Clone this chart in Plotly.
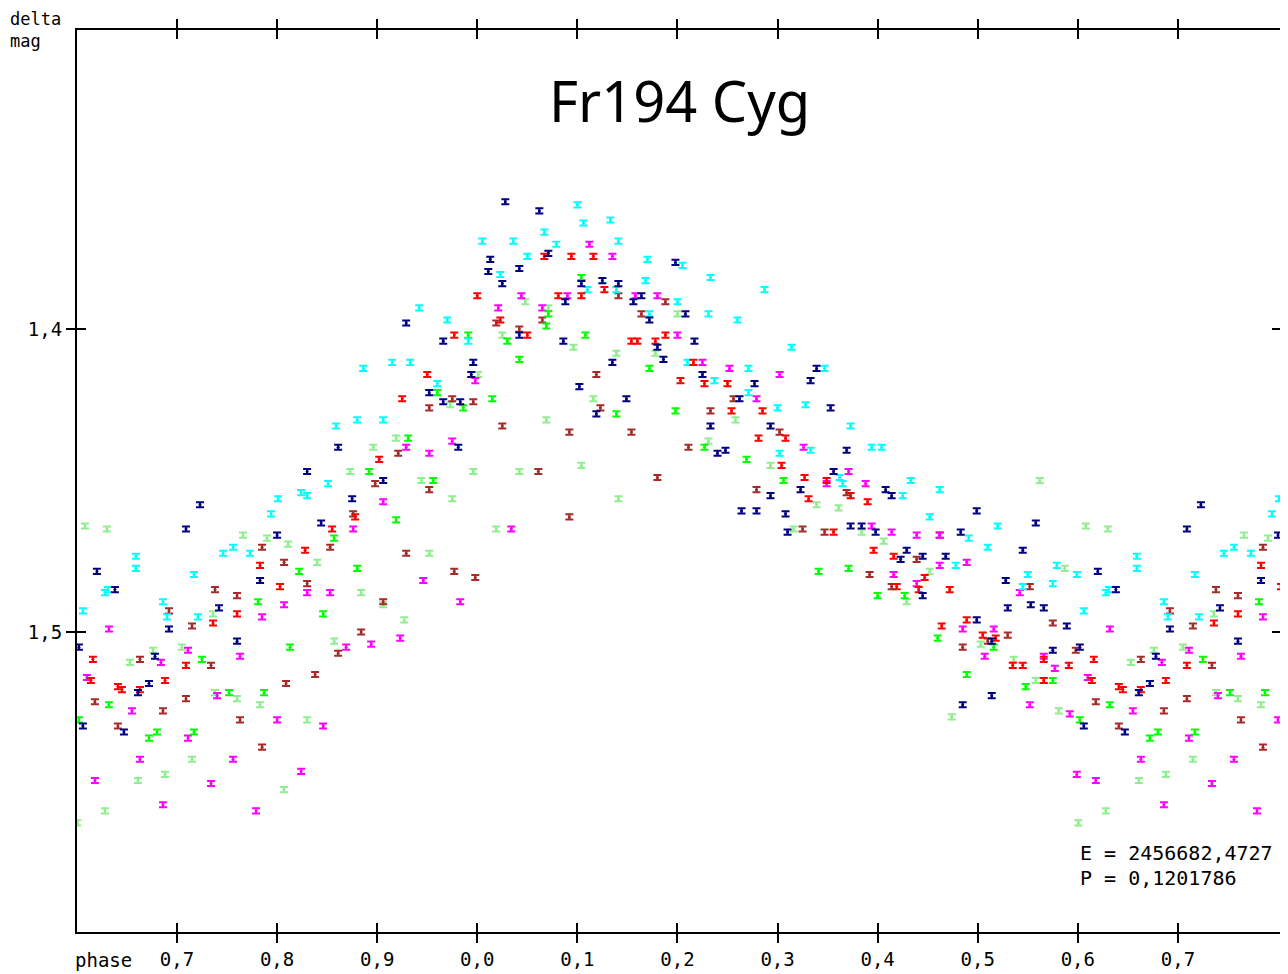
import plotly.graph_objects as go

# ---- data: phase (0..1) and delta mag per observing run (colour) ----
navy_phase = [0.723, 0.709, 0.800, 0.620, 0.783, 0.638, 0.742, 0.692, 0.602, 0.760, 0.678, 0.672, 0.661, 0.606, 0.647,
              0.929, 0.966, 0.996, 0.994, 0.952, 0.966, 0.983, 0.861, 0.981, 0.830, 0.906, 0.875, 0.844,
              0.028, 0.062, 0.071, 0.013, 0.198, 0.011, 0.042, 0.125, 0.141, 0.025, 0.104, 0.088, 0.164, 0.156, 0.172,
              0.042, 0.086, 0.180, 0.186, 0.135, 0.102, 0.149, 0.119,
              0.208, 0.217, 0.339, 0.225, 0.277, 0.333, 0.262, 0.353, 0.233, 0.293, 0.248, 0.369,
              0.240, 0.356, 0.293, 0.323, 0.264, 0.279, 0.308, 0.310, 0.373, 0.384, 0.398,
              0.408, 0.414, 0.499, 0.558, 0.483, 0.545, 0.429, 0.423, 0.445, 0.468, 0.528, 0.445, 0.530, 0.553,
              0.566, 0.589, 0.499, 0.514, 0.575, 0.514, 0.485]
navy_mag = [1.458, 1.466, 1.468, 1.480, 1.483, 1.486, 1.492, 1.499, 1.505, 1.503, 1.508, 1.517, 1.520, 1.531, 1.533,
            1.398, 1.404, 1.411, 1.415, 1.421, 1.424, 1.424, 1.439, 1.439, 1.447, 1.450, 1.456, 1.464,
            1.358, 1.361, 1.375, 1.377, 1.378, 1.381, 1.380, 1.384, 1.385, 1.385, 1.385, 1.391, 1.389, 1.391, 1.397,
            1.402, 1.404, 1.406, 1.410, 1.411, 1.419, 1.423, 1.428,
            1.395, 1.404, 1.413, 1.415, 1.418, 1.417, 1.423, 1.426, 1.432, 1.432, 1.440, 1.440,
            1.441, 1.447, 1.455, 1.453, 1.460, 1.460, 1.461, 1.467, 1.465, 1.465, 1.467,
            1.453, 1.455, 1.460, 1.464, 1.467, 1.473, 1.473, 1.476, 1.475, 1.475, 1.483, 1.488, 1.492, 1.491,
            1.492, 1.498, 1.496, 1.503, 1.506, 1.521, 1.524]

red_phase = [0.783, 0.803, 0.760, 0.736, 0.616, 0.709, 0.614, 0.688, 0.641, 0.645, 0.663,
             0.000, 0.977, 0.950, 0.925, 0.902, 0.878, 0.855, 0.828,
             0.067, 0.094, 0.116, 0.127, 0.081, 0.104, 0.023, 0.050, 0.154, 0.160, 0.178, 0.188,
             0.203, 0.216, 0.227, 0.250, 0.254, 0.285, 0.281, 0.308,
             0.304, 0.327, 0.349, 0.331, 0.373, 0.390, 0.356, 0.396,
             0.416, 0.447, 0.419, 0.441, 0.472, 0.464, 0.489, 0.505, 0.518, 0.566, 0.535, 0.545, 0.591, 0.566]
red_mag = [1.478, 1.485, 1.494, 1.497, 1.509, 1.511, 1.516, 1.516, 1.518, 1.519, 1.519,
           1.389, 1.402, 1.415, 1.423, 1.443, 1.462, 1.466, 1.473,
           1.376, 1.376, 1.376, 1.387, 1.389, 1.389, 1.397, 1.402, 1.404, 1.404, 1.404, 1.402,
           1.417, 1.411, 1.418, 1.418, 1.427, 1.427, 1.436, 1.436,
           1.445, 1.449, 1.450, 1.456, 1.455, 1.457, 1.467, 1.473,
           1.475, 1.482, 1.485, 1.486, 1.486, 1.498, 1.496, 1.501, 1.502, 1.509, 1.511, 1.511, 1.511, 1.516]

cyan_phase = [0.801, 0.794, 0.756, 0.746, 0.773, 0.659, 0.659, 0.717, 0.631, 0.628, 0.686, 0.606, 0.690, 0.721,
              0.942, 0.970, 0.991, 0.886, 0.915, 0.933, 0.960, 0.859, 0.880, 0.906, 0.851, 0.824, 0.830,
              0.100, 0.106, 0.133, 0.067, 0.005, 0.036, 0.079, 0.141, 0.050, 0.170, 0.023, 0.168, 0.110, 0.139,
              0.200, 0.172,
              0.205, 0.233, 0.287, 0.231, 0.260, 0.314, 0.210, 0.271, 0.347, 0.237, 0.271, 0.300, 0.328, 0.373,
              0.394, 0.333, 0.302, 0.362, 0.365,
              0.404, 0.433, 0.425, 0.462, 0.452, 0.520, 0.491, 0.510, 0.478, 0.579, 0.599, 0.550, 0.575, 0.545]
cyan_mag = [1.456, 1.461, 1.472, 1.474, 1.474, 1.475, 1.479, 1.481, 1.486, 1.487, 1.490, 1.493, 1.495, 1.495,
            1.393, 1.397, 1.404, 1.413, 1.411, 1.411, 1.418, 1.432, 1.430, 1.430, 1.451, 1.454, 1.455,
            1.359, 1.365, 1.364, 1.368, 1.371, 1.371, 1.372, 1.371, 1.376, 1.377, 1.382, 1.384, 1.387, 1.387,
            1.391, 1.395,
            1.379, 1.383, 1.387, 1.395, 1.397, 1.406, 1.411, 1.413, 1.413, 1.417, 1.421, 1.426, 1.425, 1.432,
            1.439, 1.440, 1.441, 1.449, 1.451,
            1.439, 1.450, 1.455, 1.453, 1.462, 1.465, 1.469, 1.472, 1.478, 1.478, 1.481, 1.481, 1.484, 1.485]

magenta_phase = [0.785, 0.632, 0.711, 0.763, 0.684, 0.610, 0.740, 0.655, 0.800, 0.711, 0.663, 0.756, 0.618, 0.734,
                 0.686, 0.779,
                 0.998, 0.929, 0.952, 0.975, 0.906, 0.876, 0.946, 0.830, 0.853, 0.983, 0.807, 0.923, 0.869, 0.894,
                 0.846, 0.824,
                 0.112, 0.135, 0.044, 0.090, 0.158, 0.180, 0.021, 0.065, 0.200, 0.034,
                 0.225, 0.252, 0.302, 0.279, 0.326, 0.371, 0.349, 0.388, 0.394,
                 0.414, 0.439, 0.462, 0.462, 0.489, 0.416, 0.439, 0.542, 0.485, 0.516, 0.507, 0.566, 0.577, 0.552,
                 0.592, 0.599]
magenta_mag = [1.495, 1.499, 1.506, 1.508, 1.510, 1.515, 1.521, 1.526, 1.529, 1.535, 1.542, 1.542, 1.549, 1.550,
               1.557, 1.559,
               1.417, 1.439, 1.441, 1.437, 1.457, 1.466, 1.483, 1.487, 1.487, 1.490, 1.491, 1.502, 1.505, 1.504,
               1.531, 1.546,
               1.372, 1.376, 1.389, 1.389, 1.389, 1.389, 1.393, 1.393, 1.402, 1.466,
               1.411, 1.413, 1.415, 1.423, 1.439, 1.447, 1.451, 1.451, 1.465,
               1.467, 1.468, 1.468, 1.478, 1.477, 1.481, 1.484, 1.487, 1.499, 1.499, 1.508, 1.508, 1.512, 1.524,
               1.527, 1.547]

green_phase = [0.781, 0.725, 0.752, 0.787, 0.632, 0.602, 0.672, 0.680, 0.717,
               0.991, 0.960, 0.986, 0.931, 0.892, 0.956, 0.919, 0.857, 0.822, 0.880, 0.846, 0.813,
               0.104, 0.071, 0.069, 0.030, 0.108, 0.042, 0.172, 0.015, 0.139, 0.198,
               0.227, 0.269, 0.306, 0.341, 0.371, 0.400,
               0.427, 0.460, 0.516, 0.489, 0.575, 0.548]
green_mag = [1.490, 1.509, 1.520, 1.520, 1.524, 1.529, 1.535, 1.533, 1.533,
             1.402, 1.421, 1.426, 1.436, 1.447, 1.450, 1.463, 1.469, 1.480, 1.479, 1.494, 1.505,
             1.383, 1.395, 1.399, 1.404, 1.402, 1.410, 1.413, 1.423, 1.428, 1.427,
             1.439, 1.443, 1.450, 1.480, 1.479, 1.488,
             1.488, 1.502, 1.505, 1.514, 1.516, 1.518]

lightgreen_phase = [0.608, 0.630, 0.766, 0.790, 0.736, 0.676, 0.705, 0.653, 0.738, 0.760, 0.783, 0.715, 0.661,
                    0.688, 0.628, 0.6005,
                    0.001, 0.973, 0.896, 0.919, 0.873, 0.944, 0.996, 0.975, 0.811, 0.952,
                    0.840, 0.884, 0.906, 0.927, 0.857, 0.830, 0.807,
                    0.048, 0.071, 0.200, 0.025, 0.096, 0.178, 0.139, 0.116, 0.069, 0.042, 0.104, 0.141, 0.019,
                    0.258, 0.231, 0.293, 0.339, 0.361, 0.316, 0.384,
                    0.562, 0.406, 0.452, 0.587, 0.429, 0.503, 0.536, 0.558, 0.581, 0.474]
lightgreen_mag = [1.465, 1.466, 1.468, 1.469, 1.494, 1.506, 1.505, 1.510, 1.520, 1.522, 1.524, 1.542, 1.549,
                  1.547, 1.559, 1.563,
                  1.415, 1.425, 1.439, 1.436, 1.447, 1.450, 1.447, 1.456, 1.471, 1.474,
                  1.477, 1.487, 1.491, 1.496, 1.503, 1.529, 1.552,
                  1.391, 1.393, 1.395, 1.402, 1.406, 1.408, 1.408, 1.423, 1.430, 1.447, 1.445, 1.456, 1.466,
                  1.430, 1.437, 1.445, 1.458, 1.459, 1.466, 1.467,
                  1.450, 1.470, 1.480, 1.479, 1.490, 1.504, 1.509, 1.516, 1.526, 1.528]

brown_phase = [0.785, 0.738, 0.760, 0.692, 0.715, 0.663, 0.734, 0.618, 0.709, 0.686, 0.641, 0.763, 0.785,
               0.975, 0.996, 0.952, 0.921, 0.898, 0.952, 0.876, 0.853, 0.929,
               0.807, 0.977, 0.998, 0.830, 0.906, 0.884, 0.861, 0.838, 0.809,
               0.141, 0.188, 0.065, 0.019, 0.164, 0.042, 0.119,
               0.123, 0.025, 0.092, 0.154, 0.061, 0.180, 0.092,
               0.256, 0.233, 0.302, 0.211,
               0.279, 0.369, 0.325, 0.347, 0.392,
               0.462, 0.439, 0.414, 0.552, 0.575, 0.530, 0.510, 0.485, 0.598]
brown_mag = [1.472, 1.486, 1.488, 1.493, 1.498, 1.509, 1.511, 1.523, 1.522, 1.526, 1.531, 1.529, 1.538,
             1.423, 1.424, 1.426, 1.441, 1.451, 1.453, 1.461, 1.472, 1.474,
             1.477, 1.480, 1.482, 1.484, 1.490, 1.500, 1.507, 1.514, 1.517,
             1.389, 1.391, 1.397, 1.398, 1.395, 1.400, 1.415,
             1.426, 1.432, 1.434, 1.434, 1.447, 1.449, 1.462,
             1.423, 1.427, 1.434, 1.439,
             1.453, 1.454, 1.466, 1.467, 1.481,
             1.468, 1.476, 1.485, 1.485, 1.497, 1.501, 1.503, 1.505, 1.506]

tick_vals = [-0.3, -0.2, -0.1, 0.0, 0.1, 0.2, 0.3, 0.4, 0.5, 0.6, 0.7]
tick_text = ["0,7", "0,8", "0,9", "0,0", "0,1", "0,2", "0,3", "0,4", "0,5", "0,6", "0,7"]
ytick_vals = [1.4, 1.5]
ytick_text = ["1,4", "1,5"]

X_MIN, X_MAX = -0.3999, 0.803
Y_BOTTOM, Y_TOP = 1.599, 1.3013

series = [
    ("#90ee90", lightgreen_phase, lightgreen_mag),
    ("#a52a2a", brown_phase, brown_mag),
    ("#ff00ff", magenta_phase, magenta_mag),
    ("#00ff00", green_phase, green_mag),
    ("#00ffff", cyan_phase, cyan_mag),
    ("#ff0000", red_phase, red_mag),
    ("#000080", navy_phase, navy_mag),
]


def unfold(ph, mg):
    xs, ys = [], []
    for p, m in zip(ph, mg):
        if p <= X_MAX:
            xs.append(p)
            ys.append(m)
        if p - 1 >= X_MIN:
            xs.append(p - 1)
            ys.append(m)
    return xs, ys


fig = go.Figure()
for i, (col, ph, mg) in enumerate(series):
    xs, ys = unfold(ph, mg)
    fig.add_trace(go.Scatter(
        x=xs, y=ys, mode="markers",
        marker=dict(size=3, color=col, line=dict(width=0)),
        error_y=dict(type="constant", value=0.00085, width=4, thickness=2, color=col),
        xaxis="x2" if i == len(series) - 1 else "x",
        yaxis="y2" if i == len(series) - 1 else "y",
        showlegend=False, hoverinfo="skip",
    ))

mono = "DejaVu Sans Mono"
axis_font = dict(family=mono, size=19, color="black")
txt_font = dict(family=mono, size=19, color="black")

# page body has an 8px default margin, so the figure is sized/offset to compensate
fig.update_layout(
    width=1280, height=966,
    margin=dict(l=69, r=7, t=22, b=42, autoexpand=False),
    paper_bgcolor="white", plot_bgcolor="white",
    showlegend=False,
    xaxis=dict(range=[X_MIN, X_MAX], tickvals=tick_vals, ticktext=tick_text, automargin=False,
               ticks="outside", ticklen=9, tickwidth=2, tickcolor="black",
               showline=True, linecolor="black", linewidth=2, mirror="ticks",
               showgrid=False, zeroline=False, tickfont=axis_font),
    yaxis=dict(range=[Y_BOTTOM, Y_TOP], tickvals=ytick_vals, ticktext=ytick_text, automargin=False,
               ticks="outside", ticklen=9, tickwidth=2, tickcolor="black",
               showline=True, linecolor="black", linewidth=2, mirror="ticks",
               showgrid=False, zeroline=False, tickfont=axis_font),
    xaxis2=dict(overlaying="x", matches="x", anchor="y2", side="bottom", automargin=False,
                tickvals=tick_vals, ticks="inside", ticklen=9, tickwidth=2, tickcolor="black",
                mirror="ticks", showticklabels=False, showgrid=False, zeroline=False, showline=False),
    yaxis2=dict(overlaying="y", matches="y", anchor="x2", side="left", automargin=False,
                tickvals=ytick_vals, ticks="inside", ticklen=9, tickwidth=2, tickcolor="black",
                mirror="ticks", showticklabels=False, showgrid=False, zeroline=False, showline=False),
    annotations=[
        dict(text="Fr194 Cyg", xref="paper", yref="paper", x=0.5, y=0.922,
             xanchor="center", yanchor="middle", showarrow=False,
             font=dict(family="Noto Sans", size=56, color="black")),
        dict(text="delta<br>mag", xref="paper", yref="paper", x=-0.0565, y=1.0244,
             xanchor="left", yanchor="top", align="left", showarrow=False, borderpad=0,
             font=dict(family=mono, size=17, color="black")),
        dict(text="phase", xref="paper", yref="paper", x=-0.003, y=-0.031,
             xanchor="left", yanchor="middle", showarrow=False, font=txt_font),
        dict(text="E = 2456682,4727", xref="paper", yref="paper", x=0.8314, y=0.0876,
             xanchor="left", yanchor="middle", showarrow=False,
             font=dict(family=mono, size=20, color="black")),
        dict(text="P = 0,1201786", xref="paper", yref="paper", x=0.8314, y=0.0599,
             xanchor="left", yanchor="middle", showarrow=False,
             font=dict(family=mono, size=20, color="black")),
    ],
)

fig.write_html("out.html")
